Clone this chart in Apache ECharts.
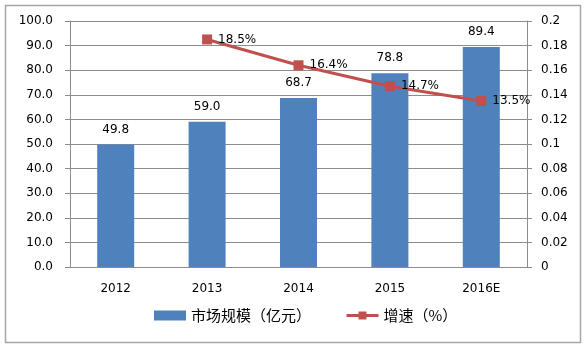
<!DOCTYPE html>
<html>
<head>
<meta charset="utf-8">
<script src="https://cdn.jsdelivr.net/npm/echarts@6/dist/echarts.min.js"></script>
<style>
  html, body { margin: 0; padding: 0; background: #fff; }
  #chart { width: 586px; height: 351px; }
</style>
</head>
<body>
<div id="chart"></div>
<script>
const years = ['2012', '2013', '2014', '2015', '2016E']
const marketSize = [49.8, 59.0, 68.7, 78.8, 89.4]
const growth = [null, 0.185, 0.164, 0.147, 0.135]

const myChart = echarts.init(document.getElementById('chart'))
const font = 'DejaVu Sans, Verdana, sans-serif'
const cjk = '"Noto Sans CJK SC", sans-serif'

myChart.setOption({
  animation: false,
  graphic: [{
    type: 'rect',
    shape: { x: 5.5, y: 5.5, width: 575, height: 337 },
    style: { fill: 'none', stroke: '#a6a6a6', lineWidth: 1.5 },
    z: -1
  }],
  grid: { left: 70, right: 59, top: 21, bottom: 84 },
  legend: {
    bottom: 23,
    left: 149,
    itemWidth: 32,
    itemHeight: 10,
    itemGap: 34,
    textStyle: { fontSize: 15, color: '#000', fontFamily: cjk },
    data: [
      { name: '市场规模（亿元）', icon: 'rect' },
      { name: '增速（%）', lineStyle: { width: 3 } }
    ]
  },
  xAxis: {
    type: 'category',
    data: years,
    axisLine: { lineStyle: { color: '#8c8c8c' } },
    axisTick: { length: 5, lineStyle: { color: '#8c8c8c' } },
    axisLabel: { color: '#000', fontSize: 12, fontFamily: font, margin: 16 }
  },
  yAxis: [
    {
      type: 'value',
      min: 0, max: 100, interval: 10,
      axisLine: { show: true, lineStyle: { color: '#8c8c8c' } },
      axisTick: { show: true, length: 5, lineStyle: { color: '#8c8c8c' } },
      splitLine: { lineStyle: { color: '#8c8c8c' } },
      axisLabel: { color: '#000', fontSize: 12, fontFamily: font, margin: 17,
        formatter: v => v.toFixed(1) }
    },
    {
      type: 'value',
      min: 0, max: 0.2, interval: 0.02,
      axisLine: { show: true, lineStyle: { color: '#8c8c8c' } },
      axisTick: { show: true, length: 5, lineStyle: { color: '#8c8c8c' } },
      splitLine: { show: false },
      axisLabel: { color: '#000', fontSize: 12, fontFamily: font, margin: 14,
        formatter: v => String(parseFloat(v.toFixed(2))) }
    }
  ],
  series: [
    {
      name: '市场规模（亿元）',
      type: 'bar',
      data: marketSize,
      barWidth: 37,
      itemStyle: { color: '#4f81bd' },
      label: { show: true, position: 'top', distance: 9, color: '#000',
        fontSize: 12, fontFamily: font, formatter: p => p.value.toFixed(1) }
    },
    {
      name: '增速（%）',
      type: 'line',
      yAxisIndex: 1,
      data: growth,
      symbol: 'rect',
      symbolSize: 10,
      lineStyle: { color: '#c0504d', width: 3 },
      itemStyle: { color: '#c0504d' },
      label: { show: true, position: 'right', distance: 6, color: '#000',
        fontSize: 12, fontFamily: font,
        formatter: p => (p.value * 100).toFixed(1) + '%' }
    }
  ]
})
</script>
</body>
</html>
